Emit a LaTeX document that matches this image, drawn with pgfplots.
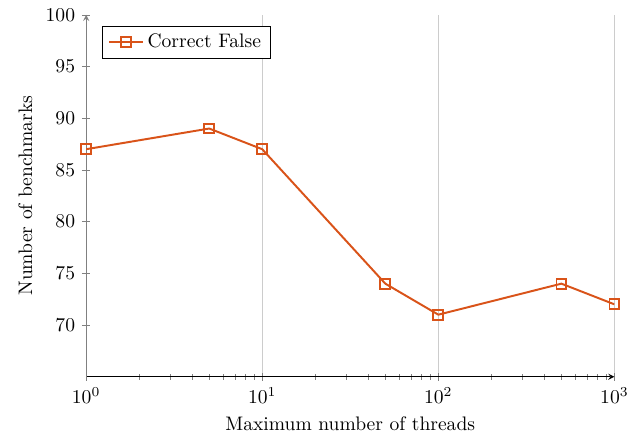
\documentclass[border={6pt 2.5pt 2pt 1pt}]{standalone}
\usepackage{pgfplots}
\pgfplotsset{compat=1.18}
\definecolor{mred}{RGB}{217,83,25}
\begin{document}
\begin{tikzpicture}
\begin{axis}[
  scale only axis,
  width=270pt, height=185pt,
  xmode=log,
  xmin=1, xmax=1000,
  ymin=65, ymax=100,
  ytick={70,75,80,85,90,95,100},
  axis lines=left,
  x axis line style={black,-stealth},
  y axis line style={gray,-stealth},
  ytick style={gray},
  xmajorgrids,
  grid style={gray!40},
  xlabel={Maximum number of threads},
  ylabel={Number of benchmarks},
  legend pos=north west,
  legend cell align=left,
  legend style={at={(0.03,0.97)}},
]
\addplot[mred, line width=1pt, mark=square, mark size=2.5pt, mark options={solid}] coordinates {
(1,87) (5,89) (10,87) (50,74) (100,71) (500,74) (1000,72)
};
\addlegendentry{Correct False}
\end{axis}
\end{tikzpicture}
\end{document}
